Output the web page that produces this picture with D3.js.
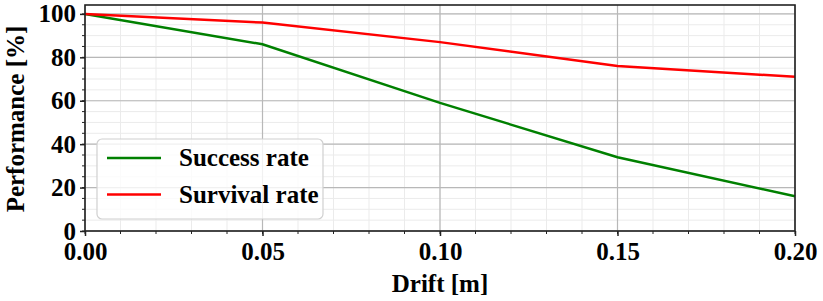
<!DOCTYPE html>
<html>
<head>
<meta charset="utf-8">
<script src="https://cdn.jsdelivr.net/npm/d3@7"></script>
<style>
  html, body { margin: 0; padding: 0; background: #fff; }
  svg { display: block; }
  text { font-family: "Liberation Serif", "Times New Roman", serif; font-weight: bold; fill: #000; }
</style>
</head>
<body>
<div id="chart"></div>
<script>
const drift = [0.00, 0.05, 0.10, 0.15, 0.20];
const successRate = [100, 86, 59, 34, 16];
const survivalRate = [100, 96, 87, 76, 71];
const seriesNames = ["Success rate", "Survival rate"];
const seriesColors = ["#008000", "#ff0000"];
const xTicks = [0.00, 0.05, 0.10, 0.15, 0.20];
const yTicks = [0, 20, 40, 60, 80, 100];
const xLabel = "Drift [m]";
const yLabel = "Performance [%]";

const W = 823, H = 301;
const m = { left: 85, right: 28, top: 5, bottom: 70 };
const iw = W - m.left - m.right, ih = H - m.top - m.bottom;

const svg = d3.select("#chart").append("svg").attr("width", W).attr("height", H);
const g = svg.append("g").attr("transform", `translate(${m.left},${m.top})`);

const x = d3.scaleLinear().domain([0, 0.2]).range([0, iw]);
const y = d3.scaleLinear().domain([0, 104.1]).range([ih, 0]);

const xMinor = d3.range(0, 0.2001, 0.01);
const yMinor = d3.range(0, 104, 5);

// minor grid
g.append("g").selectAll("line").data(xMinor).join("line")
  .attr("x1", d => x(d)).attr("x2", d => x(d)).attr("y1", 0).attr("y2", ih)
  .attr("stroke", "#ebebeb").attr("stroke-width", 1);
g.append("g").selectAll("line").data(yMinor).join("line")
  .attr("x1", 0).attr("x2", iw).attr("y1", d => y(d)).attr("y2", d => y(d))
  .attr("stroke", "#ebebeb").attr("stroke-width", 1);
// major grid
g.append("g").selectAll("line").data(xTicks).join("line")
  .attr("x1", d => x(d)).attr("x2", d => x(d)).attr("y1", 0).attr("y2", ih)
  .attr("stroke", "#b8b8b8").attr("stroke-width", 1.2);
g.append("g").selectAll("line").data(yTicks).join("line")
  .attr("x1", 0).attr("x2", iw).attr("y1", d => y(d)).attr("y2", d => y(d))
  .attr("stroke", "#b8b8b8").attr("stroke-width", 1.2);

// lines
const series = [successRate, survivalRate];
const line = d3.line().x((d, i) => x(drift[i])).y(d => y(d));
series.forEach((s, k) => {
  g.append("path").datum(s).attr("d", line)
    .attr("fill", "none").attr("stroke", seriesColors[k]).attr("stroke-width", 2.5);
});

// axes
const xAxis = d3.axisBottom(x).tickValues(xTicks).tickFormat(d3.format(".2f")).tickSize(5).tickPadding(6);
const yAxis = d3.axisLeft(y).tickValues(yTicks).tickFormat(d3.format("d")).tickSize(5).tickPadding(4);
const xa = g.append("g").attr("transform", `translate(0,${ih})`).call(xAxis);
const ya = g.append("g").call(yAxis);
[xa, ya].forEach(a => {
  a.attr("font-family", null).attr("font-size", null);
  a.select(".domain").remove();
  a.selectAll(".tick line").attr("stroke", "#222").attr("stroke-width", 1.5);
  a.selectAll("text")
    .attr("font-family", "Liberation Serif, serif")
    .attr("font-weight", "bold")
    .attr("font-size", 25)
    .attr("fill", "#000");
});
// minor ticks
g.append("g").selectAll("line").data(xMinor).join("line")
  .attr("x1", d => x(d)).attr("x2", d => x(d)).attr("y1", ih).attr("y2", ih + 3)
  .attr("stroke", "#222").attr("stroke-width", 1);
g.append("g").selectAll("line").data(yMinor).join("line")
  .attr("x1", -3).attr("x2", 0).attr("y1", d => y(d)).attr("y2", d => y(d))
  .attr("stroke", "#222").attr("stroke-width", 1);

// frame
g.append("rect").attr("x", 0).attr("y", 0).attr("width", iw).attr("height", ih)
  .attr("fill", "none").attr("stroke", "#222").attr("stroke-width", 1.6);

// labels
svg.append("text").attr("x", m.left + iw / 2).attr("y", 292).attr("text-anchor", "middle")
  .style("font-size", "25px").text(xLabel);
svg.append("text").attr("transform", `translate(24,${m.top + ih / 2 + 1}) rotate(-90)`)
  .attr("text-anchor", "middle").style("font-size", "25px").text(yLabel);

// legend
const lg = svg.append("g").attr("transform", "translate(97,139)");
lg.append("rect").attr("width", 226).attr("height", 80).attr("rx", 5)
  .attr("fill", "#fff").attr("fill-opacity", 0.8).attr("stroke", "#d0d0d0").attr("stroke-width", 1.2);
seriesNames.forEach((n, k) => {
  const yy = 19 + k * 36.5;
  lg.append("line").attr("x1", 10).attr("x2", 64).attr("y1", yy).attr("y2", yy)
    .attr("stroke", seriesColors[k]).attr("stroke-width", 2.5);
  lg.append("text").attr("x", 82).attr("y", yy + 8).style("font-size", "25px").text(n);
});
</script>
</body>
</html>
